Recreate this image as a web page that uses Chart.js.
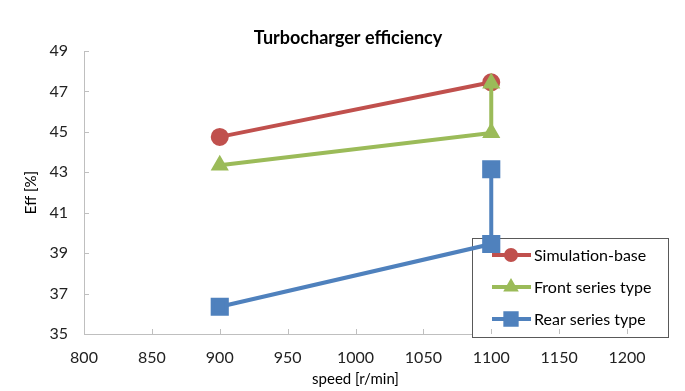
<!DOCTYPE html>
<html lang="en">
<head>
    <meta charset="UTF-8">
    <title>Turbocharger efficiency</title>
    <style>
        body { margin: 0; background: #fff; }
        .box { width: 685px; height: 391px; }
    </style>
</head>
<body>
    <div class="box">
        <canvas id="myChart" width="685" height="391"></canvas>
    </div>

<script src="https://cdn.jsdelivr.net/npm/chart.js"></script>
<script>
    // values
    const chartTitle = 'Turbocharger efficiency';
    const seriesNames = ['Simulation-base', 'Front series type', 'Rear series type'];
    const simSpeed = [900, 1100];
    const simEff = [44.75, 47.45];
    const frontSpeed = [900, 1100, 1100];
    const frontEff = [43.35, 44.95, 47.4];
    const rearSpeed = [900, 1100, 1100];
    const rearEff = [36.35, 39.45, 43.15];
    const xTicks = [800, 850, 900, 950, 1000, 1050, 1100, 1150, 1200];
    const yTicks = [35, 37, 39, 41, 43, 45, 47, 49];

    const fontName = 'Lato, "Open Sans", sans-serif';
    const axisGrey = '#BFBFBF';

    function punkte(xs, ys) {
        var out = [];
        for (var i = 0; i < xs.length; i++) {
            out.push({ x: xs[i], y: ys[i] });
        }
        return out;
    }

    // title sits a little right of the canvas middle in the original
    const titel = {
        id: 'titel',
        afterDraw(chart) {
            const c = chart.ctx;
            c.save();
            c.fillStyle = '#000';
            c.font = 'bold 18px ' + fontName;
            c.textAlign = 'center';
            c.textBaseline = 'middle';
            c.fillText(chartTitle, 348, 38);
            c.restore();
        }
    };

    // small tick marks drawn inside the plot, like the original
    const innerTicks = {
        id: 'innerTicks',
        afterDraw(chart) {
            const c = chart.ctx;
            const a = chart.chartArea;
            c.save();
            c.strokeStyle = axisGrey;
            c.lineWidth = 1;
            c.beginPath();
            xTicks.forEach(v => {
                const px = Math.round(chart.scales.x.getPixelForValue(v)) + 0.5;
                c.moveTo(px, a.bottom);
                c.lineTo(px, a.bottom - 5);
            });
            yTicks.forEach(v => {
                const py = Math.round(chart.scales.y.getPixelForValue(v)) + 0.5;
                c.moveTo(a.left, py);
                c.lineTo(a.left + 5, py);
            });
            c.stroke();
            c.restore();
        }
    };

    // legend box sitting inside the plot, bottom right
    const legendBox = { x: 472, y: 238, w: 196, h: 99 };
    const boxLegend = {
        id: 'boxLegend',
        beforeDatasetsDraw(chart) {
            const c = chart.ctx;
            c.save();
            c.fillStyle = '#fff';
            c.fillRect(legendBox.x, legendBox.y, legendBox.w, legendBox.h);
            c.strokeStyle = '#595959';
            c.lineWidth = 1;
            c.strokeRect(legendBox.x + 0.5, legendBox.y + 0.5, legendBox.w, legendBox.h);
            c.restore();
        },
        afterDatasetsDraw(chart) {
            const c = chart.ctx;
            c.save();
            chart.data.datasets.forEach((ds, i) => {
                const y = legendBox.y + 17 + i * 32;
                c.strokeStyle = ds.borderColor;
                c.lineWidth = 4;
                c.beginPath();
                c.moveTo(492, y);
                c.lineTo(531, y);
                c.stroke();
                c.fillStyle = ds.backgroundColor;
                c.strokeStyle = ds.backgroundColor;
                Chart.helpers.drawPoint(c, {
                    pointStyle: ds.pointStyle,
                    rotation: 0,
                    borderWidth: 1,
                    radius: ds.pointStyle === 'rect' ? 8 : 5
                }, 511, y);
                c.fillStyle = '#000';
                c.font = '16px ' + fontName;
                c.textBaseline = 'middle';
                c.fillText(ds.label, 534, y + 1);
            });
            c.restore();
        }
    };

    const ctx = document.getElementById('myChart');

    new Chart(ctx, {
        type: 'scatter',
        data: {
            datasets: [{
                label: seriesNames[0],
                data: punkte(simSpeed, simEff),
                borderColor: '#C0504D',
                backgroundColor: '#C0504D',
                pointStyle: 'circle',
                pointRadius: 7,
                showLine: true,
                borderWidth: 4,
                order: 3
            }, {
                label: seriesNames[1],
                data: punkte(frontSpeed, frontEff),
                borderColor: '#9BBB59',
                backgroundColor: '#9BBB59',
                pointStyle: 'triangle',
                pointRadius: 6.5,
                showLine: true,
                borderWidth: 4,
                order: 2
            }, {
                label: seriesNames[2],
                data: punkte(rearSpeed, rearEff),
                borderColor: '#4F81BD',
                backgroundColor: '#4F81BD',
                pointStyle: 'rect',
                pointRadius: 10,
                showLine: true,
                borderWidth: 4,
                order: 1
            }]
        },
        options: {
            responsive: false,
            animation: false,
            layout: { padding: { left: 22, right: 58, top: 51, bottom: 0 } },
            plugins: {
                legend: { display: false },
                tooltip: { enabled: false },
                title: { display: false }
            },
            scales: {
                x: {
                    type: 'linear',
                    min: 800,
                    max: 1200,
                    afterBuildTicks: s => { s.ticks = xTicks.map(v => ({ value: v })); },
                    afterFit: s => { s.height = 57; },
                    grid: { drawOnChartArea: false, drawTicks: false },
                    border: { color: axisGrey, width: 1 },
                    ticks: {
                        color: '#222',
                        padding: 14,
                        font: { family: fontName, size: 16 },
                        callback: v => String(v)
                    },
                    title: {
                        display: true,
                        text: 'speed [r/min]',
                        color: '#000',
                        padding: { top: 0, bottom: 3 },
                        font: { family: fontName, size: 15 }
                    }
                },
                y: {
                    min: 35,
                    max: 49,
                    afterBuildTicks: s => { s.ticks = yTicks.map(v => ({ value: v })); },
                    afterFit: s => { s.width = 62; },
                    grid: { drawOnChartArea: false, drawTicks: false },
                    border: { color: axisGrey, width: 1 },
                    ticks: {
                        color: '#222',
                        padding: 16,
                        font: { family: fontName, size: 16 },
                        callback: v => String(v)
                    },
                    title: {
                        display: true,
                        text: 'Eff [%]',
                        color: '#000',
                        padding: { top: 0, bottom: 0 },
                        font: { family: fontName, size: 15 }
                    }
                }
            }
        },
        plugins: [titel, innerTicks, boxLegend]
    });
</script>
</body>
</html>
